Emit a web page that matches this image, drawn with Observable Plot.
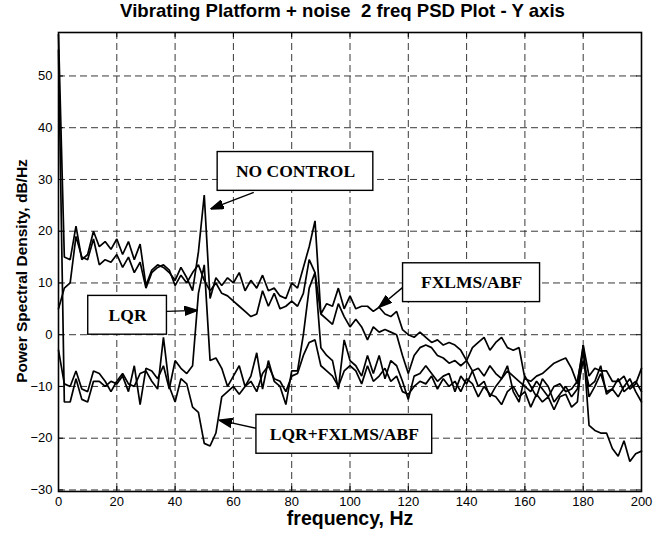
<!DOCTYPE html>
<html><head><meta charset="utf-8">
<script src="https://cdn.jsdelivr.net/npm/d3@7"></script>
<script src="https://cdn.jsdelivr.net/npm/@observablehq/plot@0.6"></script>
<style>
body{margin:0;background:#fff;}
#title{height:24px;line-height:25px;font:bold 18.6px "Liberation Sans",Arial,sans-serif;text-align:center;white-space:pre;width:663px;box-sizing:border-box;padding-left:22px;color:#000;}
</style></head><body>
<div id="title">Vibrating Platform + noise  2 freq PSD Plot - Y axis</div>
<div id="chart"></div>
<script>
// frequency grid (Hz)
const freq = d3.range(0, 201, 2);
const seriesNames = ["NO CONTROL", "FXLMS/ABF", "LQR", "LQR+FXLMS/ABF"];
const noControl = [58,15,14.5,21,14.5,15.5,20,17,18,16.5,18.5,15.5,18,14.5,17.5,9.5,12.5,13.5,13,12,10.5,13,11,8.5,16,27,7,11,9.5,11,10,12,8.5,10.5,9,11.5,8.5,9,7.5,7,10,9,13,17,22,4,6,5.5,9,5,7.5,5,5.5,5.5,4.5,5.3,4,3.5,4.5,1,0,-0.5,0.5,-0.5,-1.5,-1,-2,-1.5,-2,-3,-5,-2.5,-1.5,-0.5,-3,-1.5,-0.5,-2.5,-3,-2.5,-8.5,-9,-8,-7.5,-6.5,-5.5,-5,-4.5,-6.5,-9.5,-2,-8,-6.5,-7,-7,-9,-9,-8,-10.5,-9.5,-6.5];
const fxlms = [5,9,10,19,15,14.5,18.5,13.5,14.5,14,15.5,13,15,12,14,9,12,13,13.5,12.5,9.5,11.5,10,12,13.5,10.5,8.5,10,8,7.5,6.5,5.5,4.5,3.5,4,8.5,5.5,8,5,5.5,6.5,5.5,8,14.5,12,4,3,2,6,3.5,1.5,3,1.5,-1,1.5,0.5,1,0.5,0,-4,-7.5,-4,-2.5,-2,-2.5,-4,-4.5,-5.5,-5,-6,-5,-7,-6.5,-8,-6,-7.5,-8.5,-7,-8,-9,-10,-11,-9,-10.5,-12,-10,-9.5,-11,-10.5,-9,-3,-12,-10,-7.5,-11,-10.5,-8.5,-11,-10,-9,-11];
const lqr = [55,-13,-13,-8.5,-12.5,-13,-9,-9,-10,-9,-9.5,-8,-11,-6,-13.5,-6.5,-7,-8.5,-6,-10.5,-5,-6.5,-7.5,-6,8,13.5,-5,-4.5,-6.5,-10,-8,-6,-10,-8,-3.5,-10.5,-5,-9,-10,-13.5,-7,-7,0,9,12,-2.5,-4,-5,-10.5,-1,-5,-6,-8,-4,-7.5,-4,-8.5,-5,-6,-9,-12.5,-8,-7.5,-6,-7.5,-9,-8,-7.5,-11,-8,-9.5,-7,-10,-9,-12,-10,-8.5,-6,-11,-13,-8,-10,-12,-8.5,-10,-13,-11.5,-10,-12,-10.5,-5,-10,-9,-6,-11.5,-10.5,-12,-10,-8.5,-11,-13];
const lqrFxlms = [-3,-9.5,-10,-7,-10.5,-11,-7,-7.5,-9,-11,-9,-7.5,-9.5,-10,-7.5,-7,-9,-10.5,-0.5,-10,-13,-8.5,-9.5,-14,-15,-21,-21.5,-19,-12,-11,-10,-11.5,-10,-9,-11,-7.5,-6,-8.5,-9,-11,-8,-7.5,-4,-1.5,-1,-6,-7,-8,-10,-7,-6,-7,-9.5,-6,-9,-8,-6.5,-9,-8,-11,-11.5,-10,-9,-9.5,-8,-10.5,-8.5,-10,-9,-11,-8.5,-9.5,-12,-10,-11.5,-12,-13.5,-11,-10,-12,-11,-14,-11.5,-13,-12,-14.5,-12,-11.5,-14,-13,-2,-17.5,-18.5,-19,-19,-22,-23.5,-20.5,-24.5,-23,-22.5];
const xTicks = [0,20,40,60,80,100,120,140,160,180,200];
const yTicks = [-30,-20,-10,0,10,20,30,40,50];
// annotation labels (box corners and arrow ends in data units)
const labelText = ["NO CONTROL", "LQR", "FXLMS/ABF", "LQR+FXLMS/ABF"];
const boxF1 = [54.6, 10.2, 118.2, 67.9];
const boxF2 = [108.0, 37.2, 165.2, 128.2];
const boxV1 = [27.8, 0.0, 6.3, -23.0];
const boxV2 = [35.3, 7.5, 13.8, -15.5];
const arrowF1 = [67.0, 37.2, 118.2, 67.9];
const arrowV1 = [27.5, 4.5, 9.2, -18.1];
const arrowF2 = [52.2, 47.7, 109.9, 55.1];
const arrowV2 = [24.3, 4.7, 5.3, -16.5];

const allSeries = [noControl, fxlms, lqr, lqrFxlms];
const table = allSeries.flatMap((vals, s) => vals.map((v, i) => ({f: freq[i], v, s: seriesNames[s]})));
const boxes = labelText.map((t, i) => ({t, x1: boxF1[i], x2: boxF2[i], y1: boxV1[i], y2: boxV2[i]}));
const arrows = labelText.map((t, i) => ({x1: arrowF1[i], y1: arrowV1[i], x2: arrowF2[i], y2: arrowV2[i]}));

function filledArrow(color, context) {
  const doc = (context && context.document) || document;
  const ns = "http://www.w3.org/2000/svg";
  const m = doc.createElementNS(ns, "marker");
  m.setAttribute("viewBox", "-13 -5 13 10");
  m.setAttribute("markerWidth", 13);
  m.setAttribute("markerHeight", 10);
  m.setAttribute("markerUnits", "userSpaceOnUse");
  m.setAttribute("orient", "auto");
  m.setAttribute("refX", 0);
  m.setAttribute("refY", 0);
  const p = doc.createElementNS(ns, "path");
  p.setAttribute("d", "M-13,-4.5L0,0L-13,4.5Z");
  p.setAttribute("fill", "black");
  m.appendChild(p);
  m.node = () => m;
  return m;
}

const gridStyle = {stroke: "#222", strokeOpacity: 1, strokeWidth: 0.9, strokeDasharray: "7,4"};
const tickStyle = {stroke: "black", strokeWidth: 1};

function build(arrowMark) {
  return Plot.plot({
    width: 663, height: 514,
    marginTop: 8, marginLeft: 58, marginRight: 22, marginBottom: 47,
    x: {domain: [0, 200]},
    y: {domain: [-30.3, 58.4]},
    style: {fontFamily: "'Liberation Sans', Arial, sans-serif", fontSize: "13px", color: "black", background: "white", overflow: "visible"},
    marks: [
      Plot.ruleY(yTicks, {...gridStyle}),
      Plot.ruleX(xTicks, {...gridStyle}),
      Plot.line(table, {x: "f", y: "v", z: "s", stroke: "black", strokeWidth: 1.7, strokeLinejoin: "miter"}),
      Plot.ruleY(yTicks, {...tickStyle, insetRight: 578}),
      Plot.ruleY(yTicks, {...tickStyle, insetLeft: 578}),
      Plot.ruleX(xTicks, {...tickStyle, insetTop: 454}),
      Plot.ruleX(xTicks, {...tickStyle, insetBottom: 454}),
      Plot.frame({stroke: "black", strokeWidth: 1.6}),
      Plot.axisX(xTicks, {tickSize: 0, tickPadding: 5, label: null, fontSize: 13}),
      Plot.axisY(yTicks, {tickSize: 0, tickPadding: 6, label: null, fontSize: 13}),
      arrowMark,
      Plot.rect(boxes, {x1: "x1", x2: "x2", y1: "y1", y2: "y2", fill: "white", stroke: "black", strokeWidth: 1.4}),
      Plot.text(boxes, {x: d => (d.x1 + d.x2) / 2, y: d => (d.y1 + d.y2) / 2, text: "t", fontFamily: "'Liberation Serif', 'Times New Roman', serif", fontWeight: "bold", fontSize: 17.5}),
      Plot.text(["frequency, Hz"], {frameAnchor: "bottom", dy: 20, fontWeight: "bold", fontSize: 19.5, lineAnchor: "top", textAnchor: "middle"}),
      Plot.text(["Power Spectral Density, dB/Hz"], {frameAnchor: "left", dx: -36, dy: 9, rotate: -90, fontWeight: "bold", fontSize: 15.5, textAnchor: "middle"})
    ]
  });
}

let chart;
try {
  chart = build(Plot.link(arrows, {x1: "x1", y1: "y1", x2: "x2", y2: "y2", stroke: "black", strokeWidth: 1.4, markerEnd: filledArrow}));
} catch (e) {
  chart = build(Plot.arrow(arrows, {x1: "x1", y1: "y1", x2: "x2", y2: "y2", stroke: "black", strokeWidth: 1.4, headLength: 11, headAngle: 40}));
}
document.getElementById("chart").appendChild(chart);
</script>
</body></html>
